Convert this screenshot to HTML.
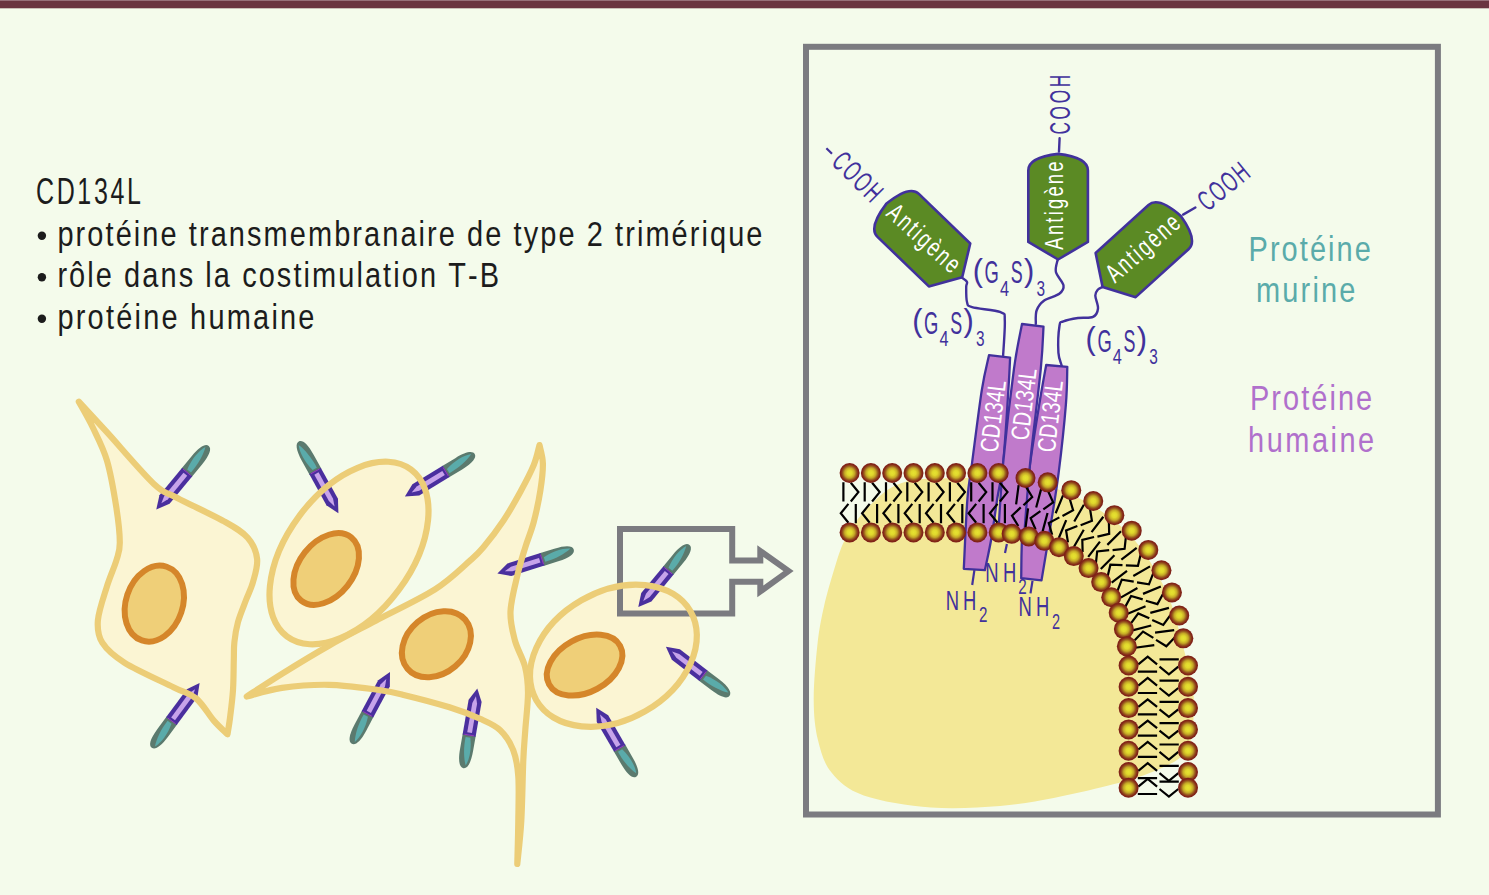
<!DOCTYPE html><html><head><meta charset="utf-8"><title>CD134L</title><style>html,body{margin:0;padding:0;background:#f4fbeb;width:1489px;height:895px;overflow:hidden}svg{display:block}text{font-family:"Liberation Sans",sans-serif;font-kerning:none}</style></head><body>
<svg width="1489" height="895" viewBox="0 0 1489 895">
<defs>
<radialGradient id="hd" cx="0.5" cy="0.5" r="0.5"><stop offset="0" stop-color="#e6e232"/><stop offset="0.25" stop-color="#e0d82c"/><stop offset="0.5" stop-color="#c4a826"/><stop offset="0.7" stop-color="#985a1e"/><stop offset="0.85" stop-color="#862a18"/><stop offset="1" stop-color="#7a1c16"/></radialGradient>
<g id="rod"><path d="M48,-6.6 L64,-6.6 C77,-6.6 83,-4 83,0 C83,4 77,6.6 64,6.6 L48,6.6 Z" fill="#5b7a6e"/><path d="M51,-1.6 C62,-4.8 73,-4.6 80,-1.8 C73,1.4 62,3.6 51,3.2 Z" fill="#5aabaa"/><path d="M0,0 L13,-6.6 L49,-6.6 L49,6.6 L13,6.6 Z" fill="#4a2f9e"/><path d="M8,0 L15.5,-2.4 L46,-2.4 L46,2.4 L15.5,2.4 Z" fill="#c7a3ea"/><path d="M48.5,-5 L48.5,5" stroke="#a43cc0" stroke-width="0.8"/></g>
<g id="tl"><path d="M-6.2,-20.5 V-1.2 M1.2,-20 L8.8,-10.6 L1.2,-1.2 M6.2,1.2 V20.5 M-1.2,1.2 L-8.8,10.6 L-1.2,20" fill="none" stroke="#000" stroke-width="2.2"/></g>
</defs>
<rect x="0" y="0" width="1489" height="1" fill="#977079"/><rect x="0" y="1" width="1489" height="7.3" fill="#6b3540"/>
<text transform="translate(35.93 203.8) scale(0.6800 1)" font-size="36.8" fill="#1c1c1c" letter-spacing="3.909">CD134L</text>
<circle cx="41.9" cy="235.8" r="4.2" fill="#1c1c1c"/>
<text transform="translate(57.43 245.6) scale(0.8400 1)" font-size="34.5" fill="#1c1c1c" letter-spacing="2.467">protéine transmembranaire de type 2 trimérique</text>
<circle cx="41.9" cy="277.2" r="4.2" fill="#1c1c1c"/>
<text transform="translate(57.38 287) scale(0.8400 1)" font-size="34.5" fill="#1c1c1c" letter-spacing="2.468">rôle dans la costimulation T-B</text>
<circle cx="41.9" cy="318.7" r="4.2" fill="#1c1c1c"/>
<text transform="translate(57.43 328.5) scale(0.8400 1)" font-size="34.5" fill="#1c1c1c" letter-spacing="2.636">protéine humaine</text>
<g fill="#fbf5d3" stroke="none">
<path d="M78.8,401.7 C83.48,406.78 94.38,418.5 106.9,432.2 C119.42,445.9 142.17,472.95 153.9,483.9 C165.63,494.85 165.58,491.65 177.3,497.9 C189.02,504.15 212.47,514.75 224.2,521.4 C235.93,528.05 242.22,531.55 247.7,537.8 C253.18,544.05 256.22,551.53 257.1,558.9 C257.98,566.27 254.85,575.15 253,582 C251.15,588.85 248.5,593.33 246,600 C243.5,606.67 239.93,615 238,622 C236.07,629 235.1,635.67 234.4,642 C233.7,648.33 234.03,652 233.8,660 C233.57,668 233.63,680.33 233,690 C232.37,699.67 230.92,710.62 230,718 C229.08,725.38 227.92,731.58 227.5,734.3 C225.25,732.07 219.22,726.87 214,720.9 C208.78,714.93 202.88,704.08 196.2,698.5 C189.52,692.92 185.82,693.35 173.9,687.4 C161.98,681.45 136.63,670.25 124.7,662.8 C112.77,655.35 106.77,649.78 102.3,642.7 C97.83,635.62 97.15,629.62 97.9,620.3 C98.65,610.98 103.7,596.85 106.8,586.8 C109.9,576.75 114.33,567.38 116.5,560 C118.67,552.62 119.83,551.28 119.8,542.5 C119.77,533.72 118.45,520.98 116.3,507.3 C114.15,493.62 110.82,473.7 106.9,460.4 C102.98,447.1 97.48,437.28 92.8,427.5 C88.12,417.72 81.13,406 78.8,401.7 Z"/>
<path d="M246.7,696.5 C252.57,692.72 268.22,682.27 281.9,673.8 C295.58,665.33 313.17,654.55 328.8,645.7 C344.43,636.85 358,630.08 375.7,620.7 C393.4,611.32 419.28,599.4 435,589.4 C450.72,579.4 461.93,567.72 470,560.7 C478.07,553.68 477.82,554 483.4,547.3 C488.98,540.6 497.35,529.72 503.5,520.5 C509.65,511.28 515.27,501.22 520.3,492 C525.33,482.78 530.5,473.02 533.7,465.2 C536.9,457.38 538.53,448.45 539.5,445.1 C540.07,448.17 542.75,455.97 542.9,463.5 C543.05,471.03 541.93,480.53 540.4,490.3 C538.87,500.07 536.22,512.6 533.7,522.1 C531.18,531.6 527.95,538.72 525.3,547.3 C522.65,555.88 520.27,562.93 517.8,573.6 C515.33,584.27 510.98,600.17 510.5,611.3 C510.02,622.43 512.48,631.2 514.9,640.4 C517.32,649.6 522.82,657.78 525,666.5 C527.18,675.22 527.95,682.12 528,692.7 C528.05,703.28 526.08,718.72 525.3,730 C524.52,741.28 523.97,745.28 523.3,760.4 C522.63,775.52 522.3,803.43 521.3,820.7 C520.3,837.97 517.97,856.78 517.3,864 C517.47,856.78 518.13,835.28 518.3,820.7 C518.47,806.12 519.13,788.23 518.3,776.5 C517.47,764.77 516.32,758.02 513.3,750.3 C510.28,742.58 505.75,735.45 500.2,730.2 C494.65,724.95 488.45,722.62 480,718.8 C471.55,714.98 462.4,711.32 449.5,707.3 C436.6,703.28 414.9,697.67 402.6,694.7 C390.3,691.73 388,691.15 375.7,689.5 C363.4,687.85 344.43,685.07 328.8,684.8 C313.17,684.53 295.58,685.95 281.9,687.9 C268.22,689.85 252.57,695.07 246.7,696.5 Z"/>
<ellipse cx="349" cy="553" rx="104" ry="62" transform="rotate(-53.4 349 553)"/>
<ellipse cx="613.4" cy="655.7" rx="89" ry="64" transform="rotate(-30 613.4 655.7)"/>
</g>
<ellipse cx="154.3" cy="603.6" rx="38.9" ry="28.4" transform="rotate(-71.4 154.3 603.6)" fill="#efcf78" stroke="#d5862a" stroke-width="6"/>
<ellipse cx="326.2" cy="569" rx="40.3" ry="27.1" transform="rotate(-51.6 326.2 569)" fill="#efcf78" stroke="#d5862a" stroke-width="6"/>
<ellipse cx="436.4" cy="644.2" rx="37.9" ry="29.1" transform="rotate(-40.3 436.4 644.2)" fill="#efcf78" stroke="#d5862a" stroke-width="6"/>
<ellipse cx="584.6" cy="665.1" rx="40.4" ry="26.9" transform="rotate(-28.4 584.6 665.1)" fill="#efcf78" stroke="#d5862a" stroke-width="6"/>
<path d="M732.2,560.5 H760.3 V551 L788.5,571.1 L760.3,591.5 V581.8 H732.2 V613.5 H620 V528.9 H732.2 Z" fill="none" stroke="#7b7b80" stroke-width="6" stroke-linejoin="miter"/>
<use href="#rod" transform="translate(156.3 509.5) rotate(-50.5) scale(0.993 1)"/>
<use href="#rod" transform="translate(199.6 682.9) rotate(126.4) scale(0.971 1)"/>
<use href="#rod" transform="translate(338.4 513.3) rotate(-118.9) scale(0.988 1)"/>
<use href="#rod" transform="translate(404.9 496.5) rotate(-31.3) scale(0.984 1)"/>
<use href="#rod" transform="translate(497.4 573.6) rotate(-17.6) scale(0.965 1)"/>
<use href="#rod" transform="translate(638.3 607) rotate(-50.5) scale(0.970 1)"/>
<use href="#rod" transform="translate(390 672.1) rotate(118.1) scale(0.978 1)"/>
<use href="#rod" transform="translate(477.3 688.5) rotate(99.9) scale(0.974 1)"/>
<use href="#rod" transform="translate(665.9 646.8) rotate(37.6) scale(0.968 1)"/>
<use href="#rod" transform="translate(596.2 707.8) rotate(59.9) scale(0.960 1)"/>
<g fill="none" stroke="#eccd77" stroke-width="6.2" stroke-linejoin="round">
<path d="M78.8,401.7 C83.48,406.78 94.38,418.5 106.9,432.2 C119.42,445.9 142.17,472.95 153.9,483.9 C165.63,494.85 165.58,491.65 177.3,497.9 C189.02,504.15 212.47,514.75 224.2,521.4 C235.93,528.05 242.22,531.55 247.7,537.8 C253.18,544.05 256.22,551.53 257.1,558.9 C257.98,566.27 254.85,575.15 253,582 C251.15,588.85 248.5,593.33 246,600 C243.5,606.67 239.93,615 238,622 C236.07,629 235.1,635.67 234.4,642 C233.7,648.33 234.03,652 233.8,660 C233.57,668 233.63,680.33 233,690 C232.37,699.67 230.92,710.62 230,718 C229.08,725.38 227.92,731.58 227.5,734.3 C225.25,732.07 219.22,726.87 214,720.9 C208.78,714.93 202.88,704.08 196.2,698.5 C189.52,692.92 185.82,693.35 173.9,687.4 C161.98,681.45 136.63,670.25 124.7,662.8 C112.77,655.35 106.77,649.78 102.3,642.7 C97.83,635.62 97.15,629.62 97.9,620.3 C98.65,610.98 103.7,596.85 106.8,586.8 C109.9,576.75 114.33,567.38 116.5,560 C118.67,552.62 119.83,551.28 119.8,542.5 C119.77,533.72 118.45,520.98 116.3,507.3 C114.15,493.62 110.82,473.7 106.9,460.4 C102.98,447.1 97.48,437.28 92.8,427.5 C88.12,417.72 81.13,406 78.8,401.7 Z"/>
<path d="M246.7,696.5 C252.57,692.72 268.22,682.27 281.9,673.8 C295.58,665.33 313.17,654.55 328.8,645.7 C344.43,636.85 358,630.08 375.7,620.7 C393.4,611.32 419.28,599.4 435,589.4 C450.72,579.4 461.93,567.72 470,560.7 C478.07,553.68 477.82,554 483.4,547.3 C488.98,540.6 497.35,529.72 503.5,520.5 C509.65,511.28 515.27,501.22 520.3,492 C525.33,482.78 530.5,473.02 533.7,465.2 C536.9,457.38 538.53,448.45 539.5,445.1 C540.07,448.17 542.75,455.97 542.9,463.5 C543.05,471.03 541.93,480.53 540.4,490.3 C538.87,500.07 536.22,512.6 533.7,522.1 C531.18,531.6 527.95,538.72 525.3,547.3 C522.65,555.88 520.27,562.93 517.8,573.6 C515.33,584.27 510.98,600.17 510.5,611.3 C510.02,622.43 512.48,631.2 514.9,640.4 C517.32,649.6 522.82,657.78 525,666.5 C527.18,675.22 527.95,682.12 528,692.7 C528.05,703.28 526.08,718.72 525.3,730 C524.52,741.28 523.97,745.28 523.3,760.4 C522.63,775.52 522.3,803.43 521.3,820.7 C520.3,837.97 517.97,856.78 517.3,864 C517.47,856.78 518.13,835.28 518.3,820.7 C518.47,806.12 519.13,788.23 518.3,776.5 C517.47,764.77 516.32,758.02 513.3,750.3 C510.28,742.58 505.75,735.45 500.2,730.2 C494.65,724.95 488.45,722.62 480,718.8 C471.55,714.98 462.4,711.32 449.5,707.3 C436.6,703.28 414.9,697.67 402.6,694.7 C390.3,691.73 388,691.15 375.7,689.5 C363.4,687.85 344.43,685.07 328.8,684.8 C313.17,684.53 295.58,685.95 281.9,687.9 C268.22,689.85 252.57,695.07 246.7,696.5 Z"/>
<ellipse cx="349" cy="553" rx="104" ry="62" transform="rotate(-53.4 349 553)"/>
<ellipse cx="613.4" cy="655.7" rx="89" ry="64" transform="rotate(-30 613.4 655.7)"/>
</g>
<rect x="806" y="46.8" width="631.9" height="767.7" fill="none" stroke="#7b7b80" stroke-width="6"/>
<path d="M915,479 C929.5,479 976.17,476.5 1002,479 C1027.83,481.5 1049,485 1070,494 C1091,503 1112,516.83 1128,533 C1144,549.17 1156.67,571.5 1166,591 C1175.33,610.5 1179.5,633.5 1184,650 C1188.5,666.5 1191.42,678.67 1193,690 C1194.58,701.33 1193.92,709.4 1193.5,718 C1193.08,726.6 1192.95,734.82 1190.5,741.6 C1188.05,748.38 1185.93,753.35 1178.8,758.7 C1171.67,764.05 1159.58,769.18 1147.7,773.7 C1135.82,778.22 1123.17,781.77 1107.5,785.8 C1091.83,789.83 1071.62,794.53 1053.7,797.9 C1035.78,801.27 1020.45,804.4 1000,806 C979.55,807.6 953.72,809.27 931,807.5 C908.28,805.73 880.28,801.23 863.7,795.4 C847.12,789.57 839.12,781.68 831.5,772.5 C823.88,763.32 820.97,752.42 818,740.3 C815.03,728.18 813.78,715.87 813.7,699.8 C813.62,683.73 815.77,659.55 817.5,643.9 C819.23,628.25 821.25,618.55 824.1,605.9 C826.95,593.25 831.28,578.75 834.6,568 C837.92,557.25 840.12,549.57 844,541.4 C847.88,533.23 852.68,525.87 857.9,519 C863.12,512.13 869.48,505.57 875.3,500.2 C881.12,494.83 886.18,490.33 892.8,486.8 C899.42,483.27 911.3,480.3 915,479 Z" fill="#f3e897"/>
<path d="M989,355.2 C987.8,361.02 984.63,372.07 981.8,390.1 C978.97,408.13 974.4,445.25 972,463.4 C969.6,481.55 968.77,481.43 967.4,499 C966.03,516.57 964.4,557.17 963.8,568.8 L984.9,570.2 C985.98,564.88 989.35,550.17 991.4,538.3 C993.45,526.43 995.22,511.78 997.2,499 C999.18,486.22 1001.4,480.35 1003.3,461.6 C1005.2,442.85 1007.47,403.83 1008.6,386.5 C1009.73,369.17 1009.85,362.42 1010.1,357.6 Z" fill="#c07acb" stroke="#41319c" stroke-width="2.3" stroke-linejoin="round"/>
<path d="M1046.2,365 C1045.17,370.83 1042.68,383.6 1040,400 C1037.32,416.4 1033,442.07 1030.1,463.4 C1027.2,484.73 1024.08,508.87 1022.6,528 C1021.12,547.13 1021.43,569.83 1021.2,578.2 L1041.5,580.4 C1042.95,571.67 1047.33,546 1050.2,528 C1053.07,510 1056.08,493 1058.7,472.4 C1061.32,451.8 1064.47,421.98 1065.9,404.4 C1067.33,386.82 1067.07,373.15 1067.3,366.9 Z" fill="#c07acb" stroke="#41319c" stroke-width="2.3" stroke-linejoin="round"/>
<path d="M1022,324 C1020.67,331.43 1017.12,345.67 1014,368.6 C1010.88,391.53 1005.97,433.37 1003.3,461.6 C1000.63,489.83 998.88,525.27 998,538 L1024,538 C1025.02,525.57 1027.3,491.63 1030.1,463.4 C1032.9,435.17 1038.57,391.4 1040.8,368.6 C1043.03,345.8 1043.05,333.6 1043.5,326.6 Z" fill="#c07acb" stroke="#41319c" stroke-width="2.3" stroke-linejoin="round"/>
<g stroke="#41319c" stroke-width="2.2" fill="none"><path d="M974.4,570.2 L972.2,585"/><path d="M1006.9,544 L1005,553"/><path d="M1032.5,580.9 L1030.5,593.4"/></g>
<g>
<use href="#tl" transform="translate(849.6 502.7) rotate(0)"/>
<use href="#tl" transform="translate(870.9 502.7) rotate(0)"/>
<use href="#tl" transform="translate(892.2 502.7) rotate(0)"/>
<use href="#tl" transform="translate(913.5 502.7) rotate(0)"/>
<use href="#tl" transform="translate(934.8 502.7) rotate(0)"/>
<use href="#tl" transform="translate(956.1 502.7) rotate(0)"/>
<use href="#tl" transform="translate(977.4 502.7) rotate(0)"/>
<use href="#tl" transform="translate(998.7 502.7) rotate(0)"/>
<use href="#tl" transform="translate(1022.1 506.32) rotate(7.5)"/>
<use href="#tl" transform="translate(1041.86 510.25) rotate(15)"/>
<use href="#tl" transform="translate(1060.93 516.72) rotate(22.5)"/>
<use href="#tl" transform="translate(1079 525.63) rotate(30)"/>
<use href="#tl" transform="translate(1095.75 536.82) rotate(37.5)"/>
<use href="#tl" transform="translate(1110.89 550.11) rotate(45)"/>
<use href="#tl" transform="translate(1124.18 565.25) rotate(52.5)"/>
<use href="#tl" transform="translate(1135.37 582) rotate(60)"/>
<use href="#tl" transform="translate(1144.28 600.07) rotate(67.5)"/>
<use href="#tl" transform="translate(1150.75 619.14) rotate(75)"/>
<use href="#tl" transform="translate(1154.68 638.9) rotate(82.5)"/>
<use href="#tl" transform="translate(1158.3 665.5) rotate(90)"/>
<use href="#tl" transform="translate(1158.3 686.8) rotate(90)"/>
<use href="#tl" transform="translate(1158.3 708.1) rotate(90)"/>
<use href="#tl" transform="translate(1158.3 729.4) rotate(90)"/>
<use href="#tl" transform="translate(1158.3 750.7) rotate(90)"/>
<use href="#tl" transform="translate(1158.3 772) rotate(90)"/>
<use href="#tl" transform="translate(1158.3 787.8) rotate(90)"/>
</g><g fill="url(#hd)">
<circle cx="849.6" cy="473" r="10"/>
<circle cx="849.6" cy="532.4" r="10"/>
<circle cx="870.9" cy="473" r="10"/>
<circle cx="870.9" cy="532.4" r="10"/>
<circle cx="892.2" cy="473" r="10"/>
<circle cx="892.2" cy="532.4" r="10"/>
<circle cx="913.5" cy="473" r="10"/>
<circle cx="913.5" cy="532.4" r="10"/>
<circle cx="934.8" cy="473" r="10"/>
<circle cx="934.8" cy="532.4" r="10"/>
<circle cx="956.1" cy="473" r="10"/>
<circle cx="956.1" cy="532.4" r="10"/>
<circle cx="977.4" cy="473" r="10"/>
<circle cx="977.4" cy="532.4" r="10"/>
<circle cx="998.7" cy="473" r="10"/>
<circle cx="998.7" cy="532.4" r="10"/>
<circle cx="1025.51" cy="478.02" r="10"/>
<circle cx="1047.69" cy="482.31" r="10"/>
<circle cx="1071.25" cy="490.15" r="10"/>
<circle cx="1093.25" cy="500.95" r="10"/>
<circle cx="1114.36" cy="515.19" r="10"/>
<circle cx="1131.72" cy="530.63" r="10"/>
<circle cx="1148.32" cy="549.93" r="10"/>
<circle cx="1161.46" cy="570.24" r="10"/>
<circle cx="1171.92" cy="592.41" r="10"/>
<circle cx="1179.23" cy="615.47" r="10"/>
<circle cx="1183.33" cy="638.34" r="10"/>
<circle cx="1011.63" cy="533.87" r="10"/>
<circle cx="1028.74" cy="536.38" r="10"/>
<circle cx="1044.31" cy="540.85" r="10"/>
<circle cx="1058.98" cy="547.18" r="10"/>
<circle cx="1073.8" cy="556.07" r="10"/>
<circle cx="1088.55" cy="568.12" r="10"/>
<circle cx="1101.16" cy="582.08" r="10"/>
<circle cx="1111.23" cy="597.2" r="10"/>
<circle cx="1118.69" cy="612.8" r="10"/>
<circle cx="1123.88" cy="629.06" r="10"/>
<circle cx="1126.86" cy="646.32" r="10"/>
<circle cx="1188" cy="665.5" r="10"/>
<circle cx="1128.6" cy="665.5" r="10"/>
<circle cx="1188" cy="686.8" r="10"/>
<circle cx="1128.6" cy="686.8" r="10"/>
<circle cx="1188" cy="708.1" r="10"/>
<circle cx="1128.6" cy="708.1" r="10"/>
<circle cx="1188" cy="729.4" r="10"/>
<circle cx="1128.6" cy="729.4" r="10"/>
<circle cx="1188" cy="750.7" r="10"/>
<circle cx="1128.6" cy="750.7" r="10"/>
<circle cx="1188" cy="772" r="10"/>
<circle cx="1128.6" cy="772" r="10"/>
<circle cx="1188" cy="787.8" r="10"/>
<circle cx="1128.6" cy="787.8" r="10"/>
</g>
<text transform="translate(945.69 609.5) scale(0.6600 1)" font-size="27.9" fill="#41319c" letter-spacing="6.236">NH</text>
<text transform="translate(979.04 622.1) scale(0.7045 1)" font-size="21.5" fill="#41319c">2</text>
<text transform="translate(985.19 581.8) scale(0.6600 1)" font-size="27.9" fill="#41319c" letter-spacing="6.691">NH</text>
<text transform="translate(1018.34 594.3) scale(0.7045 1)" font-size="21.5" fill="#41319c">2</text>
<text transform="translate(1018.49 616.2) scale(0.6600 1)" font-size="27.9" fill="#41319c" letter-spacing="6.236">NH</text>
<text transform="translate(1052.07 628.8) scale(0.6738 1)" font-size="21.5" fill="#41319c">2</text>
<text x="-1.29" y="0" transform="translate(997.55 452.03) rotate(-83.25) scale(0.7742 1)" font-size="25.4" fill="#fff">CD134L</text>
<text x="-1.29" y="0" transform="translate(1028.35 440.03) rotate(-83.25) scale(0.7742 1)" font-size="25.4" fill="#fff">CD134L</text>
<text x="-1.29" y="0" transform="translate(1054.75 452.03) rotate(-83.25) scale(0.7742 1)" font-size="25.4" fill="#fff">CD134L</text>
<g fill="none" stroke="#41319c" stroke-width="2.4" stroke-linecap="round">
<path d="M1003.1,355.8 C1003.38,349.93 1005.22,327.87 1004.8,320.6 C1004.38,313.33 1006.05,314.43 1000.6,312.2 C995.15,309.97 977.7,308.9 972.1,307.2 C966.5,305.5 967.98,305.37 967,302 C966.02,298.63 966.2,290.33 966.2,287 C966.2,283.67 967.7,283.53 967,282 C966.3,280.47 962.83,278.5 962,277.8"/>
<path d="M1035.8,324 C1035.93,321.75 1035.2,314.42 1036.6,310.5 C1038,306.58 1040.42,303.28 1044.2,300.5 C1047.98,297.72 1056.08,296.32 1059.3,293.8 C1062.52,291.28 1064.07,289.03 1063.5,285.4 C1062.93,281.77 1056.88,276.23 1055.9,272 C1054.92,267.77 1057.32,262 1057.6,260"/>
<path d="M1061.7,365.5 C1061.15,363.35 1058.77,359.22 1058.4,352.6 C1058.03,345.98 1058.67,331 1059.5,325.8 C1060.33,320.6 1060.32,322.7 1063.4,321.4 C1066.48,320.1 1073.07,318.75 1078,318 C1082.93,317.25 1089.67,318.48 1093,316.9 C1096.33,315.32 1097.62,312.05 1098,308.5 C1098.38,304.95 1095.3,298.77 1095.3,295.6 C1095.3,292.43 1096.78,290.95 1098,289.5 C1099.22,288.05 1101.83,287.33 1102.6,286.9"/>
<path d="M1059,151.6 L1059.6,138.2"/><path d="M1183.1,214.6 L1195.4,207.5"/>
</g>
<path d="M0,0 L-29.8,-17.6 L-29.8,-89 C-29.8,-98 -18,-103.5 0,-105.6 C18,-103.5 29.8,-98 29.8,-89 L29.8,-17.6 Z" transform="translate(1058.1 259.5) rotate(0)" fill="#5b8a24" stroke="#41319c" stroke-width="2.6" stroke-linejoin="round"/>
<path d="M0,0 L-29.8,-17.6 L-29.8,-89 C-29.8,-98 -18,-103.5 0,-105.6 C18,-103.5 29.8,-98 29.8,-89 L29.8,-17.6 Z" transform="translate(962.2 277.2) rotate(-46)" fill="#5b8a24" stroke="#41319c" stroke-width="2.6" stroke-linejoin="round"/>
<path d="M0,0 L-29.8,-17.6 L-29.8,-89 C-29.8,-98 -18,-103.5 0,-105.6 C18,-103.5 29.8,-98 29.8,-89 L29.8,-17.6 Z" transform="translate(1102.6 286.9) rotate(47.8)" fill="#5b8a24" stroke="#41319c" stroke-width="2.6" stroke-linejoin="round"/>
<text x="-0.05" y="0" transform="translate(1062.5 249.6) rotate(-90) scale(0.7000 1)" font-size="26.4" fill="#fff" letter-spacing="3.123">Antigène</text>
<text x="-0.05" y="0" transform="translate(885.1 215.1) rotate(42) scale(0.7000 1)" font-size="26.4" fill="#fff" letter-spacing="3.245">Antigène</text>
<text x="-0.05" y="0" transform="translate(1115.1 283.8) rotate(-41) scale(0.7000 1)" font-size="26.4" fill="#fff" letter-spacing="3.245">Antigène</text>
<text x="-1.46" y="0" transform="translate(1070.4 133.7) rotate(-90) scale(0.6000 1)" font-size="28.8" fill="#41319c" letter-spacing="4.415">COOH</text>
<text x="-1.46" y="0" transform="translate(830.9 163.8) rotate(45) scale(0.6000 1)" font-size="28.8" fill="#41319c" letter-spacing="3.193">COOH</text>
<path d="M826.4,148.2 L832,153.8" stroke="#41319c" stroke-width="2.2"/>
<text x="-1.46" y="0" transform="translate(1208.1 211.6) rotate(-39.2) scale(0.6000 1)" font-size="28.8" fill="#41319c" letter-spacing="3.026">COOH</text>
<text transform="translate(912.21 331.4) scale(0.9547 1)" font-size="32" fill="#41319c">(</text>
<text transform="translate(924.08 333.6) scale(0.5930 1)" font-size="31" fill="#41319c">G</text>
<text transform="translate(939.43 346.1) scale(0.7465 1)" font-size="21.8" fill="#41319c">4</text>
<text transform="translate(950.19 333.6) scale(0.5772 1)" font-size="31" fill="#41319c">S</text>
<text transform="translate(963.42 331.4) scale(0.9665 1)" font-size="32" fill="#41319c">)</text>
<text transform="translate(976.01 346.1) scale(0.7063 1)" font-size="21.8" fill="#41319c">3</text>
<text transform="translate(972.71 281) scale(0.9547 1)" font-size="32" fill="#41319c">(</text>
<text transform="translate(984.58 283.2) scale(0.5930 1)" font-size="31" fill="#41319c">G</text>
<text transform="translate(999.93 295.7) scale(0.7465 1)" font-size="21.8" fill="#41319c">4</text>
<text transform="translate(1010.69 283.2) scale(0.5772 1)" font-size="31" fill="#41319c">S</text>
<text transform="translate(1023.92 281) scale(0.9665 1)" font-size="32" fill="#41319c">)</text>
<text transform="translate(1036.51 295.7) scale(0.7063 1)" font-size="21.8" fill="#41319c">3</text>
<text transform="translate(1085.51 349.3) scale(0.9547 1)" font-size="32" fill="#41319c">(</text>
<text transform="translate(1097.38 351.5) scale(0.5930 1)" font-size="31" fill="#41319c">G</text>
<text transform="translate(1112.73 364) scale(0.7465 1)" font-size="21.8" fill="#41319c">4</text>
<text transform="translate(1123.49 351.5) scale(0.5772 1)" font-size="31" fill="#41319c">S</text>
<text transform="translate(1136.72 349.3) scale(0.9665 1)" font-size="32" fill="#41319c">)</text>
<text transform="translate(1149.31 364) scale(0.7063 1)" font-size="21.8" fill="#41319c">3</text>
<text transform="translate(1248.52 260.5) scale(0.8400 1)" font-size="34.5" fill="#5aabaa" letter-spacing="2.453">Protéine</text>
<text transform="translate(1255.98 302.4) scale(0.8400 1)" font-size="34.5" fill="#5aabaa" letter-spacing="2.603">murine</text>
<text transform="translate(1249.92 409.8) scale(0.8400 1)" font-size="34.5" fill="#b070cc" letter-spacing="2.453">Protéine</text>
<text transform="translate(1248.09 451.7) scale(0.8400 1)" font-size="34.5" fill="#b070cc" letter-spacing="2.982">humaine</text>
</svg></body></html>
